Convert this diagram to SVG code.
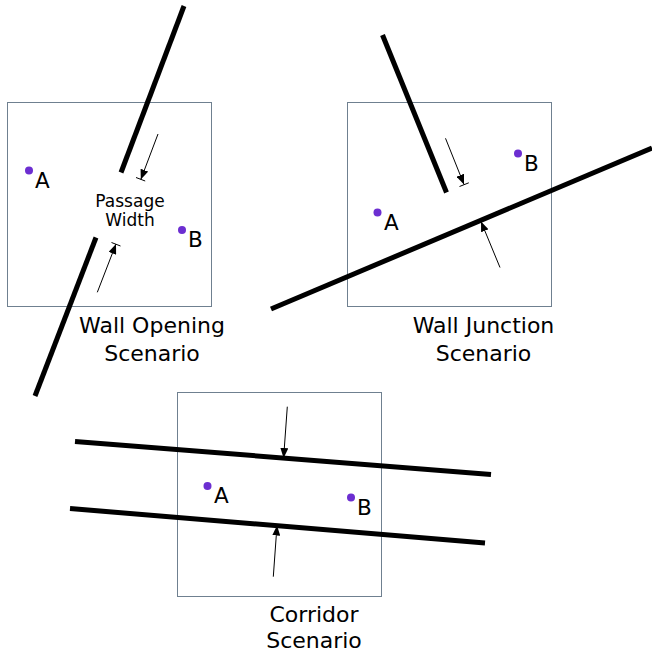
<svg xmlns="http://www.w3.org/2000/svg" width="652" height="653" viewBox="0 0 652 653">
<style>
.box{fill:#fff;stroke:#6f8090;stroke-width:1}
.wall{stroke:#000;stroke-width:5;fill:none}
.arr{stroke:#000;stroke-width:1;fill:none}
.dot{fill:#6c2ed1}
.lbl{font-family:"DejaVu Sans",Verdana,sans-serif;font-size:21.5px;fill:#000}
.cap{font-family:"DejaVu Sans",Verdana,sans-serif;font-size:22px;fill:#000;text-anchor:middle}
.pw{font-family:"DejaVu Sans",Verdana,sans-serif;font-size:17px;fill:#000;text-anchor:middle}
</style>
<defs>
<marker id="ah" viewBox="0 0 10 8" refX="10" refY="4" markerWidth="10" markerHeight="8" markerUnits="userSpaceOnUse" orient="auto">
<path d="M0,0 L10,4 L0,8 Z" fill="#000"/>
</marker>
</defs>
<g id="scenario-wall-opening">
<rect class="box" x="7.5" y="102.5" width="204" height="204"/>
<circle class="dot" cx="29" cy="170.5" r="4"/>
<text class="lbl" x="35" y="187.5">A</text>
<circle class="dot" cx="182" cy="230" r="4"/>
<text class="lbl" x="188" y="247">B</text>
<text class="pw" x="130" y="206.5">Passage</text>
<text class="pw" x="130" y="226">Width</text>
<text class="cap" x="152" y="333">Wall Opening</text>
<text class="cap" x="152" y="361">Scenario</text>
</g>
<g id="scenario-wall-junction">
<rect class="box" x="347.5" y="102.5" width="204" height="204"/>
<circle class="dot" cx="518" cy="153.5" r="4"/>
<text class="lbl" x="524" y="170.5">B</text>
<circle class="dot" cx="377.5" cy="212.5" r="4"/>
<text class="lbl" x="384" y="229.5">A</text>
<text class="cap" x="483.5" y="333">Wall Junction</text>
<text class="cap" x="483.5" y="361">Scenario</text>
</g>
<g id="scenario-corridor">
<rect class="box" x="177.5" y="392.5" width="204" height="204"/>
<circle class="dot" cx="207.5" cy="486" r="4"/>
<text class="lbl" x="214" y="503">A</text>
<circle class="dot" cx="351" cy="497.5" r="4"/>
<text class="lbl" x="357" y="514.5">B</text>
<text class="cap" x="314" y="622">Corridor</text>
<text class="cap" x="314" y="648">Scenario</text>
</g>
<g id="walls">
<line class="wall" x1="184" y1="6" x2="121" y2="172.5"/>
<line class="wall" x1="96" y1="237.5" x2="35" y2="396"/>
<line class="wall" x1="382.5" y1="35" x2="446.5" y2="192.5"/>
<line class="wall" x1="271" y1="309" x2="652" y2="148"/>
<line class="wall" x1="75" y1="441.5" x2="491" y2="474.5"/>
<line class="wall" x1="70" y1="508.5" x2="485" y2="543"/>
</g>
<g id="connectors">
<line class="arr" x1="158" y1="134" x2="140.8" y2="179.5" marker-end="url(#ah)"/>
<line class="arr" x1="136" y1="177.5" x2="145.2" y2="181"/>
<line class="arr" x1="97.3" y1="292.3" x2="116" y2="244" marker-end="url(#ah)"/>
<line class="arr" x1="111.5" y1="242.5" x2="120.5" y2="246"/>
<line class="arr" x1="445.5" y1="138.3" x2="464" y2="184.5" marker-end="url(#ah)"/>
<line class="arr" x1="459.5" y1="186.5" x2="468.8" y2="182.8"/>
<line class="arr" x1="500" y1="267.5" x2="481" y2="221.5" marker-end="url(#ah)"/>
<line class="arr" x1="287.3" y1="406.7" x2="283.6" y2="458" marker-end="url(#ah)"/>
<line class="arr" x1="273.3" y1="576.7" x2="277" y2="525.5" marker-end="url(#ah)"/>
</g>
</svg>
